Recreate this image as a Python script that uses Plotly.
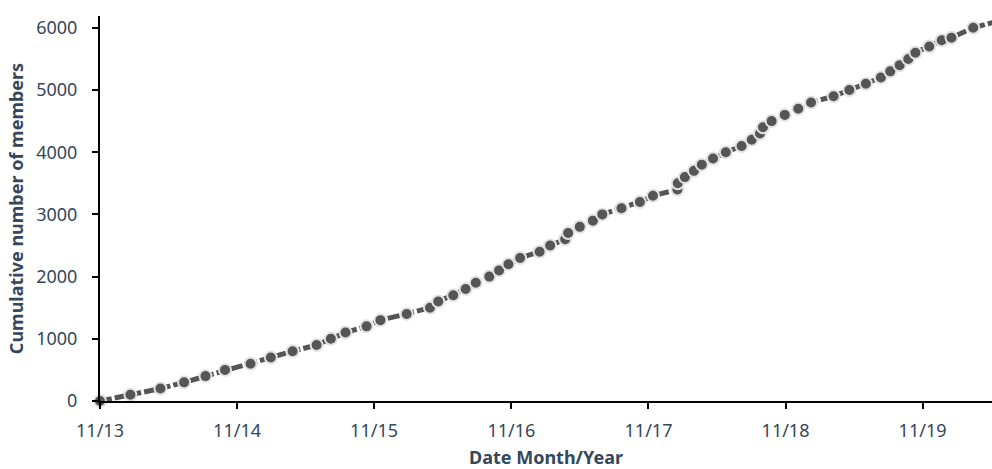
import plotly.graph_objects as go

# Dates at which cumulative membership reached each milestone
dates = [
    "2013-11-01", "2014-01-21", "2014-04-11", "2014-06-13", "2014-08-09",
    "2014-09-30", "2014-12-07", "2015-01-30", "2015-03-29", "2015-06-01",
    "2015-07-09", "2015-08-17", "2015-10-12", "2015-11-18", "2016-01-27",
    "2016-03-29", "2016-04-20", "2016-05-30", "2016-07-02", "2016-07-29",
    "2016-09-03", "2016-09-29", "2016-10-24", "2016-11-24", "2017-01-15",
    "2017-02-12", "2017-03-24", "2017-04-01", "2017-05-02", "2017-06-06",
    "2017-07-01", "2017-08-21", "2017-10-09", "2017-11-13", "2018-01-17",
    "2018-01-18", "2018-02-06", "2018-03-02", "2018-03-23", "2018-04-22",
    "2018-05-26", "2018-07-07", "2018-08-03", "2018-08-25", "2018-09-02",
    "2018-09-25", "2018-10-30", "2018-12-05", "2019-01-08", "2019-03-09",
    "2019-04-20", "2019-06-03", "2019-07-13", "2019-08-07", "2019-09-01",
    "2019-09-24", "2019-10-13", "2019-11-19", "2019-12-22", "2020-01-17",
    "2020-03-15",
]
members = [
    0, 100, 200, 300, 400, 500, 600, 700, 800, 900,
    1000, 1100, 1200, 1300, 1400, 1500, 1600, 1700, 1800, 1900,
    2000, 2100, 2200, 2300, 2400, 2500, 2600, 2700, 2800, 2900,
    3000, 3100, 3200, 3300, 3400, 3500, 3600, 3700, 3800, 3900,
    4000, 4100, 4200, 4300, 4400, 4500, 4600, 4700, 4800, 4900,
    5000, 5100, 5200, 5300, 5400, 5500, 5600, 5700, 5800, 5840,
    6000,
]
# next observation, just past the visible window (line continues off-chart)
next_date = ["2020-03-15", "2020-05-15"]
next_members = [6000, 6100]

x_range = ["2013-11-01", "2020-05-04"]
y_range = [0, 6190]

LINE = "#555555"
TEXT = "#34475c"
FONT = "Noto Sans"

fig = go.Figure()
fig.add_trace(go.Scatter(
    x=next_date, y=next_members, mode="lines",
    line=dict(color=LINE, width=5, dash="12px,3px"),
    hoverinfo="skip", showlegend=False,
))
fig.add_trace(go.Scatter(
    x=dates, y=members, mode="lines+markers",
    line=dict(color=LINE, width=5, dash="12px,3px"),
    marker=dict(size=12, color=LINE, line=dict(color="#e2e2e2", width=2)),
    cliponaxis=False, showlegend=False,
))

fig.update_layout(
    width=992, height=469,
    margin=dict(l=100, r=0, t=16, b=68, autoexpand=False),
    paper_bgcolor="white", plot_bgcolor="white",
    font=dict(family=FONT, color=TEXT, size=18),
    showlegend=False,
)
fig.update_xaxes(
    type="date", range=x_range,
    tick0="2013-11-01", dtick="M12", tickformat="%m/%y",
    showline=True, linecolor="black", linewidth=2,
    ticks="outside", ticklen=6, tickwidth=2, tickcolor="black",
    showgrid=False, zeroline=False, automargin=False,
    tickfont=dict(family=FONT, size=18, color=TEXT),
    ticklabelstandoff=6,
    title=dict(text="<b>Date Month/Year</b>", standoff=14,
               font=dict(family=FONT, size=18, color=TEXT)),
)
fig.update_yaxes(
    range=y_range, tickvals=[0, 1000, 2000, 3000, 4000, 5000, 6000],
    showline=True, linecolor="black", linewidth=2,
    ticks="outside", ticklen=6, tickwidth=2, tickcolor="black",
    showgrid=False, zeroline=False, automargin=False,
    tickfont=dict(family=FONT, size=18, color=TEXT),
    ticklabelstandoff=11,
    title=dict(text="<b>Cumulative number of members</b>", standoff=8,
               font=dict(family=FONT, size=18, color=TEXT)),
)

# remove the browser's default 8px body margin so the figure fills the window
fig.write_html(
    "out.html",
    config={"displayModeBar": False},
    post_script="document.body.style.margin='0';document.body.style.overflow='hidden';",
)
